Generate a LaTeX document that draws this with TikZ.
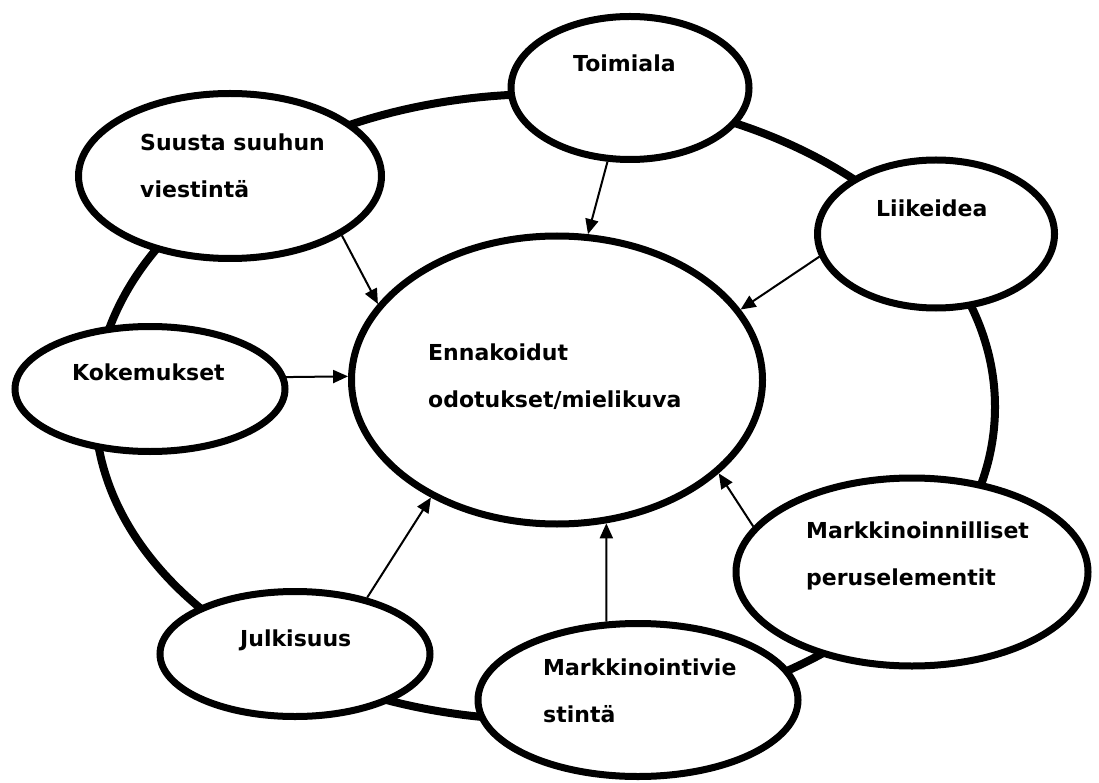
\documentclass[tikz,border=0pt]{standalone}
\usepackage{fontspec}
\setmainfont{DejaVu Sans}
\usetikzlibrary{arrows.meta, positioning, shapes.geometric}
\tikzstyle{bubble} = [ellipse, 
draw=black, 
line width=7pt, 
fill=white, 
inner sep=0pt]
\tikzstyle{lbl} = [anchor=base west, align=left, inner sep=0pt,
font=\bfseries\fontsize{22}{47}\selectfont]
\tikzstyle{arrow} = [-{Triangle[length=15pt,width=13pt]}, line width=2pt]

\begin{document}
\begin{tikzpicture}[x=1pt, y=-1pt]
		
		\useasboundingbox (0,0) rectangle (1099,783);
		
		% outer ring
		\draw[line width=8pt] (545,407) ellipse [x radius=450, y radius=313];
		
		\node[bubble, minimum width=238pt, minimum height=143pt] (toim) at (630,88) {};
		\node[bubble, minimum width=303pt, minimum height=165pt] (suusta) at (230,176) {};
		\node[bubble, minimum width=237pt, minimum height=148pt] (liike) at (936,234) {};
		\node[bubble, minimum width=411pt, minimum height=288pt] (ctr) at (557,380) {};
		\node[bubble, minimum width=270pt, minimum height=125pt] (koke) at (150,389) {};
		\node[bubble, minimum width=270pt, minimum height=125pt] (julk) at (295,654) {};
		\node[bubble, minimum width=320pt, minimum height=153pt] (mviest) at (638,700) {};
		\node[bubble, minimum width=352pt, minimum height=188pt] (mper) at (912,572) {};
		
		\node[lbl] (toimT) at (573,72) {Toimiala};
		\node[lbl] (suustaT) at (140,198) {Suusta suuhun\\viestintä};
		\node[lbl] (liikeT) at (876,217) {Liikeidea};
		\node[lbl] (ctrT) at (428,407) {Ennakoidut\\odotukset/mielikuva};
		\node[lbl] (kokeT) at (72,380) {Kokemukset};
		\node[lbl] (julkT) at (240,646) {Julkisuus};
		\node[lbl] (mviestT) at (543,722) {Markkinointivie\\stintä};
		\node[lbl] (mperT) at (806,585) {Markkinoinnilliset\\peruselementit};
		
		\draw[arrow] (toim.253) -- (ctr.78);
		\draw[arrow] (suusta.332) -- (ctr.157);
		\draw[arrow] (liike.191) -- (ctr.21);
		\draw[arrow] (koke.5) -- (ctr.179);
		\draw[arrow] (julk.38) -- (ctr.223);
		\draw[arrow] (mviest.112) -- (ctr.289);
		\draw[arrow] (mper.164) -- (ctr.330);
		
	\end{tikzpicture}
\end{document}
